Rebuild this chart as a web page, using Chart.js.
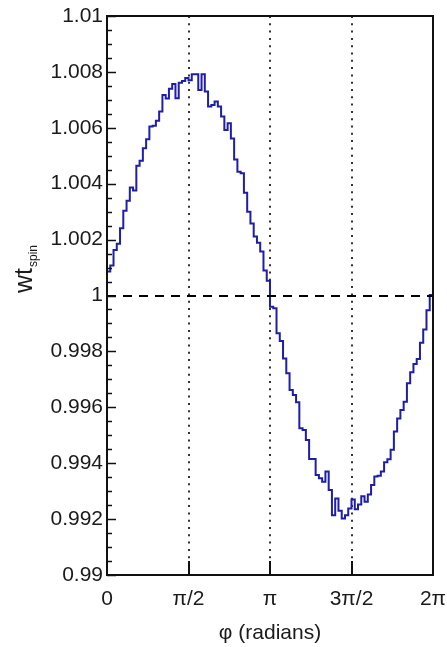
<!DOCTYPE html>
<html><head><meta charset="utf-8">
<script src="https://cdn.jsdelivr.net/npm/chart.js@4"></script>
<style>html,body{margin:0;padding:0;background:#fff}canvas{display:block}</style>
</head><body>
<canvas id="c" width="447" height="647"></canvas>
<script>
// ---- data ----
const binValues = [
  1.00086, 1.00107, 1.00163, 1.00185, 1.00241, 1.00303, 1.00339, 1.00386, 1.00376, 1.00464,
  1.00482, 1.00527, 1.00559, 1.00605, 1.00607, 1.00625, 1.00658, 1.00717, 1.00705, 1.00740,
  1.00757, 1.00706, 1.00761, 1.00767, 1.00778, 1.00770, 1.00792, 1.00792, 1.00735, 1.00792,
  1.00730, 1.00676, 1.00682, 1.00694, 1.00676, 1.00640, 1.00592, 1.00616, 1.00562, 1.00487,
  1.00443, 1.00437, 1.00368, 1.00300, 1.00258, 1.00211, 1.00189, 1.00157, 1.00089, 1.00053,
  0.99960, 0.99954, 0.99865, 0.99837, 0.99775, 0.99722, 0.99662, 0.99644, 0.99618, 0.99525,
  0.99519, 0.99483, 0.99415, 0.99415, 0.99358, 0.99346, 0.99334, 0.99370, 0.99304, 0.99214,
  0.99274, 0.99230, 0.99202, 0.99214, 0.99238, 0.99270, 0.99235, 0.99252, 0.99282, 0.99262,
  0.99288, 0.99322, 0.99352, 0.99355, 0.99370, 0.99403, 0.99414, 0.99448, 0.99513, 0.99560,
  0.99590, 0.99620, 0.99686, 0.99725, 0.99755, 0.99773, 0.99831, 0.99878, 0.99947, 1.00002
];
const xMin = 0, xMax = 2 * Math.PI;
const xTickValues = [0, Math.PI / 2, Math.PI, 3 * Math.PI / 2, 2 * Math.PI];
const xTickLabels = ['0', 'π/2', 'π', '3π/2', '2π'];
const yMin = 0.99, yMax = 1.01, yMinorStep = 0.0005;
const yTickValues = [0.99, 0.992, 0.994, 0.996, 0.998, 1, 1.002, 1.004, 1.006, 1.008, 1.01];
const yTickLabels = ['0.99', '0.992', '0.994', '0.996', '0.998', '1', '1.002', '1.004', '1.006', '1.008', '1.01'];
const refLinesX = [Math.PI / 2, Math.PI, 3 * Math.PI / 2];
const refLinesY = [1];
const xTitle = 'φ (radians)';
const yTitleMain = 'wt', yTitleSub = 'spin';

// ---- build histogram step points (left bin edges) ----
const binW = (xMax - xMin) / binValues.length;
const points = binValues.map((v, i) => ({ x: xMin + i * binW, y: v }));
points.push({ x: xMax, y: binValues[binValues.length - 1] });

const FAM = "'Liberation Sans', Arial, sans-serif";
const TXT = '#1a1a1a';

const decor = {
  id: 'decor',
  beforeDatasetsDraw(chart) {
    const { ctx, chartArea: a, scales: { x } } = chart;
    ctx.save();
    ctx.strokeStyle = '#333'; ctx.lineWidth = 2; ctx.setLineDash([2, 5.3]);
    refLinesX.forEach(v => {
      const px = Math.round(x.getPixelForValue(v));
      ctx.beginPath(); ctx.moveTo(px, a.top); ctx.lineTo(px, a.bottom); ctx.stroke();
    });
    ctx.restore();
  },
  afterDatasetsDraw(chart) {
    const { ctx, chartArea: a, scales: { x, y } } = chart;
    ctx.save();
    ctx.strokeStyle = '#000'; ctx.lineWidth = 2; ctx.setLineDash([9, 7]);
    refLinesY.forEach(v => {
      const py = Math.round(y.getPixelForValue(v));
      ctx.beginPath(); ctx.moveTo(a.left, py); ctx.lineTo(a.right, py); ctx.stroke();
    });
    ctx.setLineDash([]);
    ctx.strokeStyle = '#111'; ctx.lineWidth = 2;
    ctx.strokeRect(a.left, a.top, a.right - a.left, a.bottom - a.top);
    ctx.lineWidth = 1.5;
    const n = Math.round((yMax - yMin) / yMinorStep);
    for (let k = 0; k <= n; k++) {
      const v = yMin + k * yMinorStep;
      const py = Math.round(y.getPixelForValue(v)) + 0.5;
      const len = (k % 4 === 0) ? 9 : 5;
      ctx.beginPath(); ctx.moveTo(a.left, py); ctx.lineTo(a.left + len, py); ctx.stroke();
    }
    ctx.lineWidth = 2;
    xTickValues.forEach(v => {
      const px = Math.round(x.getPixelForValue(v));
      ctx.beginPath(); ctx.moveTo(px, a.bottom); ctx.lineTo(px, a.bottom - 14); ctx.stroke();
    });
    ctx.restore();
  },
  afterDraw(chart) {
    const { ctx } = chart;
    ctx.save();
    ctx.fillStyle = TXT;
    ctx.translate(32, 293);
    ctx.rotate(-Math.PI / 2);
    ctx.textBaseline = 'alphabetic';
    ctx.textAlign = 'left';
    ctx.font = '25px ' + FAM;
    ctx.fillText(yTitleMain, 0, 0);
    const w = ctx.measureText(yTitleMain).width;
    ctx.font = '12px ' + FAM;
    ctx.fillText(yTitleSub, w + 1, 5);
    ctx.restore();
  }
};

new Chart(document.getElementById('c'), {
  type: 'line',
  data: {
    datasets: [{
      data: points,
      borderColor: '#1e1ea6',
      borderWidth: 2,
      pointRadius: 0,
      stepped: 'before',
      fill: false,
      tension: 0
    }]
  },
  options: {
    responsive: false,
    animation: false,
    events: [],
    devicePixelRatio: 1,
    layout: { padding: { top: 16, right: 14, left: 0, bottom: 0 } },
    plugins: { legend: { display: false }, tooltip: { enabled: false } },
    scales: {
      x: {
        type: 'linear', min: xMin, max: xMax,
        afterFit(s) { s.height = 72; s.paddingLeft = 0; s.paddingRight = 0; },
        afterBuildTicks(s) { s.ticks = xTickValues.map(v => ({ value: v })); },
        grid: { display: false, drawTicks: false },
        border: { display: false },
        ticks: {
          autoSkip: false, maxRotation: 0, minRotation: 0, padding: 12, color: TXT,
          font: { family: FAM, size: 21 },
          callback: (v, i) => xTickLabels[i]
        },
        title: { display: true, text: xTitle, color: TXT, font: { family: FAM, size: 21 }, padding: { top: 0, bottom: 1 } }
      },
      y: {
        type: 'linear', min: yMin, max: yMax,
        afterFit(s) { s.width = 107; s.paddingTop = 0; s.paddingBottom = 0; },
        afterBuildTicks(s) { s.ticks = yTickValues.map(v => ({ value: v })); },
        grid: { display: false, drawTicks: false },
        border: { display: false },
        ticks: {
          autoSkip: false, padding: 4, color: TXT,
          font: { family: FAM, size: 21 },
          callback: (v, i) => yTickLabels[i]
        }
      }
    }
  },
  plugins: [decor]
});
</script>
</body></html>
